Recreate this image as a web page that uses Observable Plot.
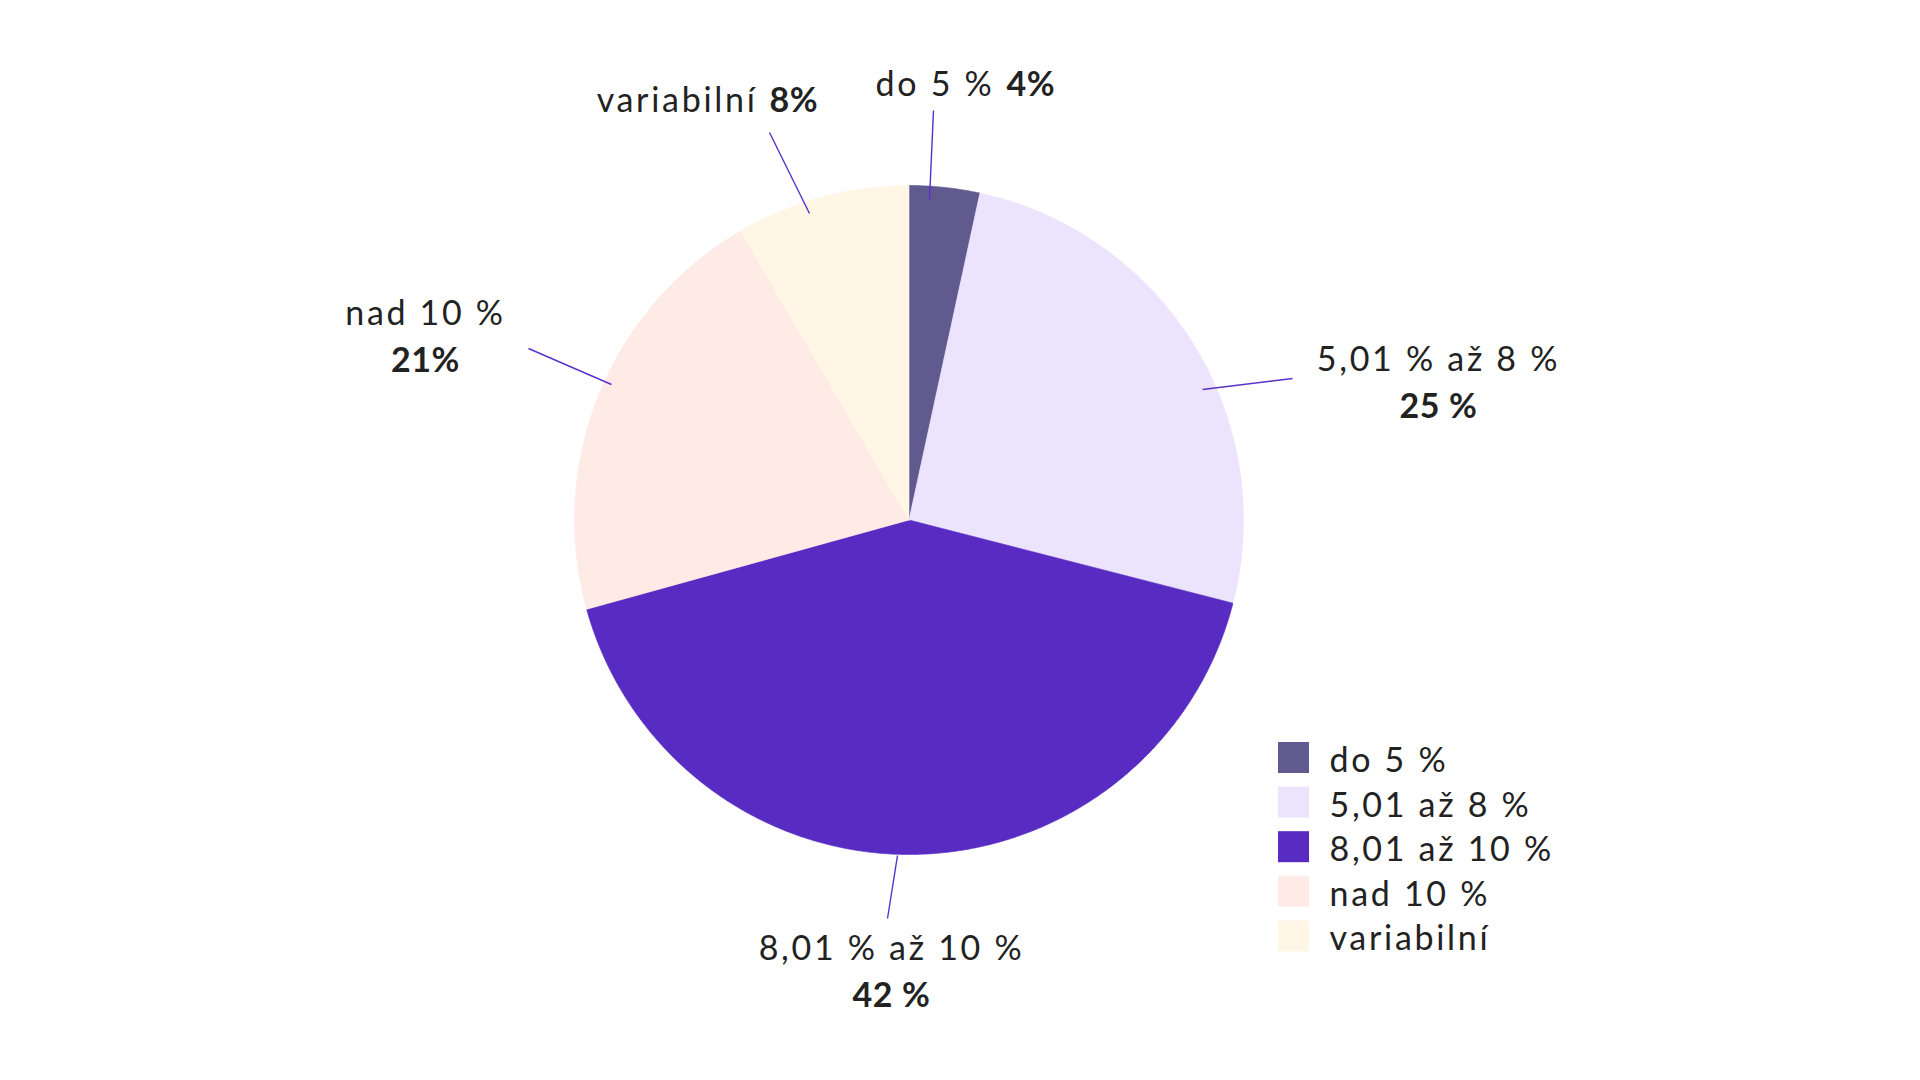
<!DOCTYPE html>
<html>
<head>
<meta charset="utf-8">
<script src="https://cdn.jsdelivr.net/npm/d3@7"></script>
<script src="https://cdn.jsdelivr.net/npm/@observablehq/plot@0.6"></script>
<style>
  html, body { margin: 0; padding: 0; background: #ffffff; }
  #chart svg { display: block; }
  #chart g[font-weight="bold"] { letter-spacing: 0.6px; }
</style>
</head>
<body>
<div id="chart"></div>
<script>
// ---- data ----
const categories = ["do 5 %", "5,01 až 8 %", "8,01 až 10 %", "nad 10 %", "variabilní"];
const shares = [3.4, 25.6, 41.7, 20.9, 8.4];
const labelNames = ["do 5 %", "5,01 % až 8 %", "8,01 % až 10 %", "nad 10 %", "variabilní"];
const labelValues = ["4%", "25 %", "42 %", "21%", "8%"];
const colors = ["#615a8e", "#ece4fd", "#582cc3", "#ffebe6", "#fff6e5"];

// ---- layout ----
const W = 1920, H = 1080;
const cx = 908.5, cy = 519.5, R = 334.5;
const FS = 34;
const FONT = "Lato, 'Open Sans', sans-serif";
const TEXT = "#222222";
const LEADER = "#5a30cc";

// label placement per slice (annotation layout, pixels)
const leaderLayout = [
  {x1: 929, y1: 199, x2: 933, y2: 110},
  {x1: 1202, y1: 389, x2: 1292, y2: 378},
  {x1: 897, y1: 855, x2: 887, y2: 918},
  {x1: 611, y1: 384, x2: 528, y2: 348},
  {x1: 809, y1: 213, x2: 769, y2: 132}
];
// inline: name + bold value on one line split at sx; stacked: two centred lines
const labelLayout = [
  {mode: "inline", sx: 1002, base: 95},
  {mode: "stacked", x: 1438, base: 370},
  {mode: "stacked", x: 891, base: 959},
  {mode: "stacked", x: 425, base: 324},
  {mode: "inline", sx: 765, base: 111}
];
const lineGap = 47;
const legendLayout = {x: 1278, top: 742, step: 44.6, size: 31, textX: 1329};

// ---- pie geometry from data ----
const arcs = d3.pie().sort(null).value(d => d)(shares);
const piePts = [];
arcs.forEach((a, i) => {
  const cat = categories[i];
  piePts.push({cat, x: cx, y: cy});
  const n = Math.max(2, Math.ceil((a.endAngle - a.startAngle) / (Math.PI / 360)));
  for (let k = 0; k <= n; k++) {
    const t = a.startAngle + (a.endAngle - a.startAngle) * k / n;
    piePts.push({cat, x: cx + R * Math.sin(t), y: cy - R * Math.cos(t)});
  }
  piePts.push({cat, x: cx, y: cy});
});

const ctr = 0.32 * FS; // baseline -> middle offset
const inlineNames = [], inlineVals = [], stackNames = [], stackVals = [];
labelLayout.forEach((L, i) => {
  if (L.mode === "inline") {
    inlineNames.push({x: L.sx - 8, y: L.base - ctr, t: labelNames[i]});
    inlineVals.push({x: L.sx + 4, y: L.base - ctr, t: labelValues[i]});
  } else {
    stackNames.push({x: L.x, y: L.base - ctr, t: labelNames[i]});
    stackVals.push({x: L.x, y: L.base + lineGap - ctr, t: labelValues[i]});
  }
});
const leaders = leaderLayout.map((l, i) => ({...l, cat: categories[i]}));

const legendRows = categories.map((c, i) => ({
  cat: c,
  x1: legendLayout.x, x2: legendLayout.x + legendLayout.size,
  y1: legendLayout.top + i * legendLayout.step,
  y2: legendLayout.top + i * legendLayout.step + legendLayout.size,
  ty: legendLayout.top + i * legendLayout.step + 29.5 - ctr
}));

const chart = Plot.plot({
  width: W, height: H,
  margin: 0,
  style: {fontFamily: FONT, background: "#ffffff", letterSpacing: "2.7px"},
  x: {domain: [0, W], range: [0, W], axis: null},
  y: {domain: [0, H], range: [0, H], axis: null},
  color: {domain: categories, range: colors},
  marks: [
    Plot.line(piePts, {x: "x", y: "y", z: "cat", fill: "cat", stroke: "cat", strokeWidth: 0.6, curve: "linear"}),
    Plot.link(leaders, {x1: "x1", y1: "y1", x2: "x2", y2: "y2", stroke: LEADER, strokeWidth: 1.4}),
    Plot.text(inlineNames, {x: "x", y: "y", text: "t", textAnchor: "end", fontSize: FS, fill: TEXT}),
    Plot.text(inlineVals, {x: "x", y: "y", text: "t", textAnchor: "start", fontSize: FS, fontWeight: "bold", fill: TEXT}),
    Plot.text(stackNames, {x: "x", y: "y", text: "t", textAnchor: "middle", fontSize: FS, fill: TEXT}),
    Plot.text(stackVals, {x: "x", y: "y", text: "t", textAnchor: "middle", fontSize: FS, fontWeight: "bold", fill: TEXT}),
    Plot.rect(legendRows, {x1: "x1", x2: "x2", y1: "y1", y2: "y2", fill: "cat"}),
    Plot.text(legendRows, {x: legendLayout.textX, y: "ty", text: "cat", textAnchor: "start", fontSize: FS, fill: TEXT})
  ]
});
document.getElementById("chart").appendChild(chart);
</script>
</body>
</html>
